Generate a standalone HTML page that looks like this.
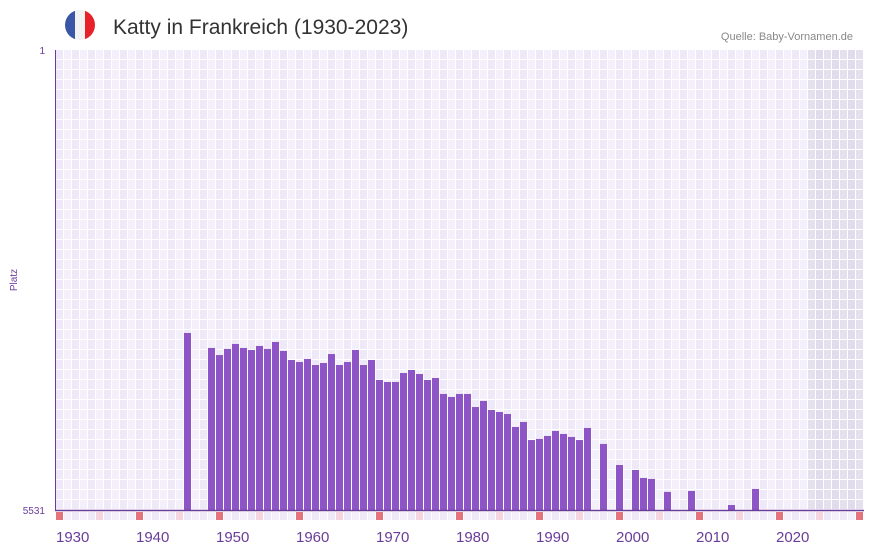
<!DOCTYPE html>
<html><head><meta charset="utf-8"><style>
body{margin:0;background:#fff;font-family:"Liberation Sans",sans-serif}
svg{display:block}
</style></head><body>
<svg id="c" width="873" height="552" viewBox="0 0 873 552">
<defs><clipPath id="fc"><circle cx="80" cy="25" r="15"/></clipPath></defs>
<g clip-path="url(#fc)">
<rect x="65" y="10" width="10" height="30" fill="#3a56a6"/><rect x="75" y="10" width="10" height="30" fill="#f2f2f2"/><rect x="85" y="10" width="10" height="30" fill="#e8202a"/>
</g>
<text x="113" y="34" font-size="21" fill="#333">Katty in Frankreich (1930-2023)</text>
<text x="853" y="40" font-size="11" fill="#888" text-anchor="end">Quelle: Baby-Vornamen.de</text>
<g id="grid"></g><g id="bars"></g><g id="axes"></g>
<text x="17" y="280" font-size="10" fill="#6a3d9a" text-anchor="middle" transform="rotate(-90 17 280)">Platz</text>
</svg>
<script>
const years=[1946,1949,1950,1951,1952,1953,1954,1955,1956,1957,1958,1959,1960,1961,1962,1963,1964,1965,1966,1967,1968,1969,1970,1971,1972,1973,1974,1975,1976,1977,1978,1979,1980,1981,1982,1983,1984,1985,1986,1987,1988,1989,1990,1991,1992,1993,1994,1995,1996,1998,2000,2002,2003,2004,2006,2009,2014,2017];
const ranks=[3403,3583,3668,3595,3535,3583,3607,3559,3595,3511,3619,3728,3752,3716,3788,3764,3656,3788,3752,3607,3788,3728,3968,3992,3992,3884,3848,3896,3968,3944,4136,4172,4136,4136,4293,4220,4329,4353,4377,4533,4473,4690,4677,4641,4581,4617,4653,4690,4545,4737,4990,5050,5146,5158,5314,5302,5471,5278];
const xTicks=[1930,1940,1950,1960,1970,1980,1990,2000,2010,2020];
const yTicks=[1,5531];
const NS="http://www.w3.org/2000/svg";
const X0=56,CW=8,Y0=50,Y1=510,YMIN=1930,YMAX=2030;
const x=yr=>X0+(yr-YMIN)*CW;
const y=r=>Y0+(r-1)/(5531-1)*(Y1-Y0);
function mk(t,a,p){const e=document.createElementNS(NS,t);for(const k in a)e.setAttribute(k,a[k]);p.appendChild(e);return e;}
const g=document.getElementById('grid'),b=document.getElementById('bars'),ax=document.getElementById('axes');
for(let yr=YMIN;yr<=YMAX;yr++){
  const shade=yr>=2024;
  for(let r=0;r<46;r++){
    const c=mk('rect',{x:x(yr),y:Y0+r*10,width:7,height:9,fill:shade?((yr%2)?'#e1dcec':'#e4e0ee'):((yr%2)?'#f3effb':'#eee8f8')},g);
  }
  const d=yr%10;
  const m=mk('rect',{x:x(yr),y:512,width:7,height:8,fill:d===0?'#e5737c':d===5?'#f5d6e0':((yr%2)?'#f3effb':'#eee8f8')},g);
  
  
}
years.forEach((yr,i)=>{
  const t=y(ranks[i]);
  const r=mk('rect',{x:x(yr),y:t,width:7,height:Y1-t,fill:'#8e55c6'},b);
  
  
});
const yl=mk('line',{x1:55.5,y1:Y0,x2:55.5,y2:Y1,stroke:'#6a3d9a','stroke-width':1},ax);


const xl=mk('line',{x1:55,y1:510.5,x2:864,y2:510.5,stroke:'#6a3d9a','stroke-width':1.5},ax);


xTicks.forEach(v=>{
  const t=mk('text',{x:x(v),y:542,'font-size':15,fill:'#6a3d9a'},ax);t.textContent=v;
  
  
});
yTicks.forEach(v=>{
  const t=mk('text',{x:45,y:y(v)+4,'font-size':10,fill:'#6a3d9a','text-anchor':'end'},ax);t.textContent=v;
  
  
});
</script>
</body></html>
